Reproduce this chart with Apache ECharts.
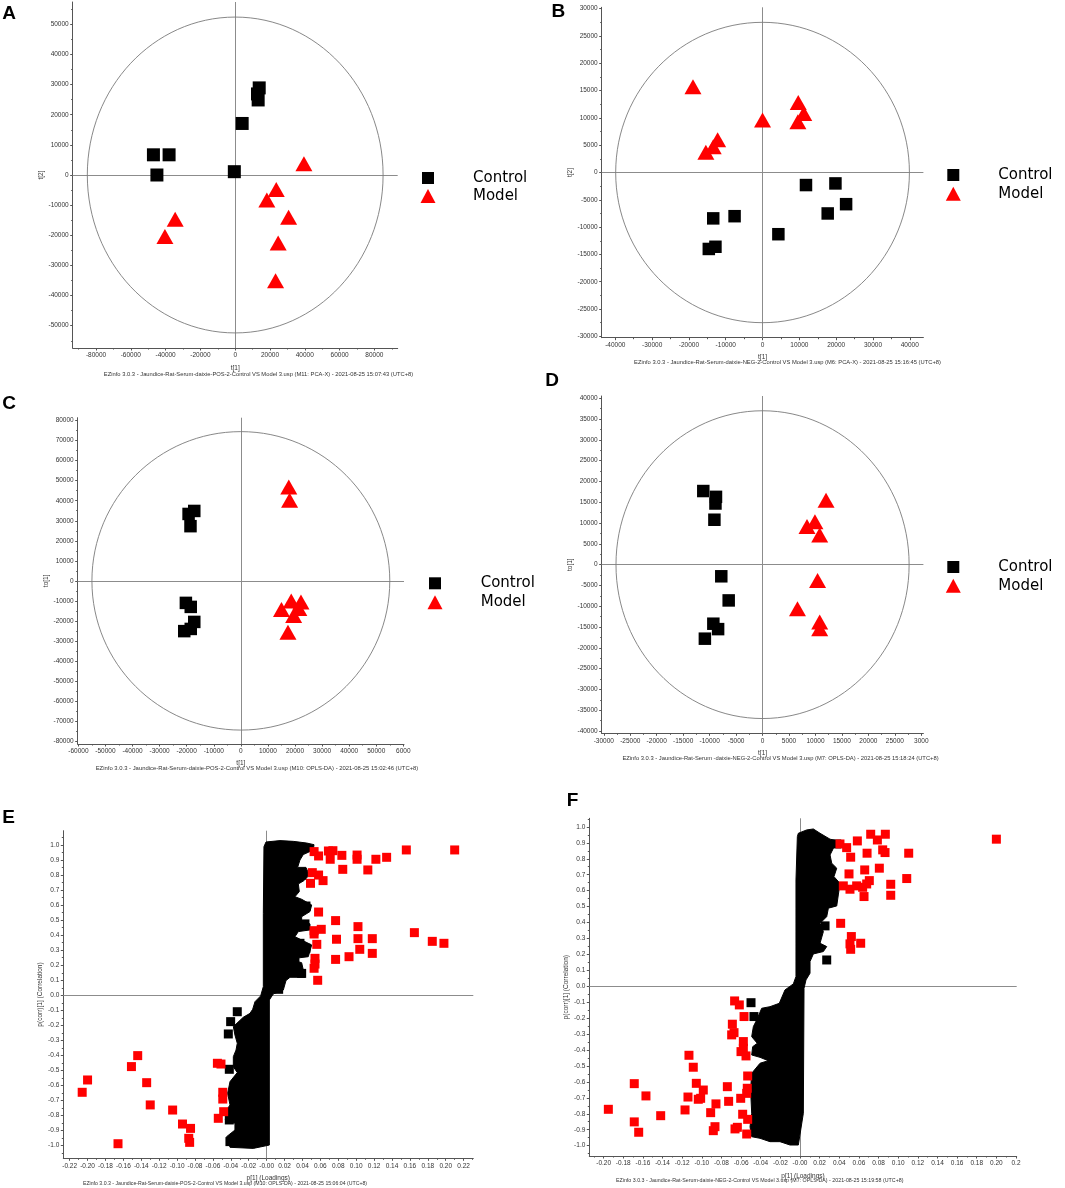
<!DOCTYPE html>
<html>
<head>
<meta charset="utf-8">
<script src="https://cdn.jsdelivr.net/npm/echarts@6/dist/echarts.min.js"></script>
<style>
  html, body { margin: 0; padding: 0; background: #fff; }
  #chart { width: 1065px; height: 1188px; }
</style>
</head>
<body>
<div id="chart"></div>
<script>
// ---- A: PCA-X, POS ----
var aControl = [[-47000, 6700], [-38000, 6700], [-45000, 0], [-500, 1100], [4000, 17100], [13800, 28900], [12800, 26900], [13200, 24900]];
var aModel = [[39500, 3700], [23600, -4800], [18200, -8300], [30700, -14000], [-34500, -14700], [24700, -22600], [-40400, -20400], [23200, -35100]];
var aEllipse = [85000, 52400];
var aXTicks = [-80000, -60000, -40000, -20000, 0, 20000, 40000, 60000, 80000];
var aXLabels = ['-80000', '-60000', '-40000', '-20000', '0', '20000', '40000', '60000', '80000'];
var aYTicks = [-50000, -40000, -30000, -20000, -10000, 0, 10000, 20000, 30000, 40000, 50000];
var aYLabels = ['-50000', '-40000', '-30000', '-20000', '-10000', '0', '10000', '20000', '30000', '40000', '50000'];

// ---- B: PCA-X, NEG ----
var bControl = [[11800, -2300], [19800, -2000], [22700, -5800], [17700, -7500], [4300, -11300], [-7600, -8000], [-13400, -8400], [-12800, -13600], [-14600, -14000]];
var bModel = [[-18900, 15700], [0, 9600], [9700, 12800], [11200, 10800], [9600, 9300], [-12200, 6000], [-13400, 4700], [-15400, 3700]];
var bEllipse = [39900, 27500];
var bXTicks = [-40000, -30000, -20000, -10000, 0, 10000, 20000, 30000, 40000];
var bXLabels = ['-40000', '-30000', '-20000', '-10000', '0', '10000', '20000', '30000', '40000'];
var bYTicks = [-30000, -25000, -20000, -15000, -10000, -5000, 0, 5000, 10000, 15000, 20000, 25000, 30000];
var bYLabels = ['-30000', '-25000', '-20000', '-15000', '-10000', '-5000', '0', '5000', '10000', '15000', '20000', '25000', '30000'];

// ---- C: OPLS-DA scores, POS ----
var cControl = [[-19300, 33400], [-17200, 34900], [-18600, 27300], [-20300, -11000], [-18500, -13000], [-17200, -20500], [-18500, -24000], [-20900, -25100]];
var cModel = [[17700, 46900], [18000, 40300], [18600, -10000], [22200, -10500], [15000, -14300], [21400, -13800], [19500, -17300], [17400, -25600]];
var cEllipse = [55000, 74500];
var cXTicks = [-60000, -50000, -40000, -30000, -20000, -10000, 0, 10000, 20000, 30000, 40000, 50000, 60000];
var cXLabels = ['-60000', '-50000', '-40000', '-30000', '-20000', '-10000', '0', '10000', '20000', '30000', '40000', '50000', '6000'];
var cYTicks = [-80000, -70000, -60000, -50000, -40000, -30000, -20000, -10000, 0, 10000, 20000, 30000, 40000, 50000, 60000, 70000, 80000];
var cYLabels = ['-80000', '-70000', '-60000', '-50000', '-40000', '-30000', '-20000', '-10000', '0', '10000', '20000', '30000', '40000', '50000', '60000', '70000', '80000'];

// ---- D: OPLS-DA scores, NEG ----
var dControl = [[-11200, 17700], [-8800, 16300], [-8900, 14700], [-9100, 10800], [-7800, -2800], [-6400, -8600], [-9300, -14200], [-8400, -15500], [-10900, -17800]];
var dModel = [[12000, 15500], [9900, 10300], [8400, 9200], [10800, 7100], [10400, -3800], [6600, -10600], [10800, -13800], [10800, -15400]];
var dEllipse = [27700, 37000];
var dXTicks = [-30000, -25000, -20000, -15000, -10000, -5000, 0, 5000, 10000, 15000, 20000, 25000, 30000];
var dXLabels = ['-30000', '-25000', '-20000', '-15000', '-10000', '-5000', '0', '5000', '10000', '15000', '20000', '25000', '3000'];
var dYTicks = [-40000, -35000, -30000, -25000, -20000, -15000, -10000, -5000, 0, 5000, 10000, 15000, 20000, 25000, 30000, 35000, 40000];
var dYLabels = ['-40000', '-35000', '-30000', '-25000', '-20000', '-15000', '-10000', '-5000', '0', '5000', '10000', '15000', '20000', '25000', '30000', '35000', '40000'];

// ---- E: S-plot, POS ----
var eRed = [
  [0.053, 0.956], [0.058, 0.927], [0.069, 0.960], [0.074, 0.962], [0.071, 0.905], [0.084, 0.931], [0.101, 0.933], [0.101, 0.905],
  [0.122, 0.905], [0.134, 0.918], [0.156, 0.967], [0.210, 0.967], [0.085, 0.838], [0.113, 0.834], [0.051, 0.816], [0.058, 0.800],
  [0.063, 0.763], [0.049, 0.745], [0.058, 0.554], [0.077, 0.497], [0.102, 0.457], [0.053, 0.430], [0.061, 0.439], [0.053, 0.408],
  [0.078, 0.373], [0.102, 0.377], [0.118, 0.377], [0.165, 0.417], [0.185, 0.359], [0.198, 0.346], [0.056, 0.339], [0.104, 0.306],
  [0.118, 0.279], [0.092, 0.257], [0.077, 0.239], [0.054, 0.246], [0.054, 0.208], [0.053, 0.180], [0.057, 0.100],
  [-0.206, -0.645], [-0.200, -0.563], [-0.166, -0.987], [-0.151, -0.474], [-0.144, -0.401], [-0.134, -0.581], [-0.130, -0.729],
  [-0.105, -0.763], [-0.094, -0.856], [-0.085, -0.885], [-0.087, -0.951], [-0.086, -0.978], [-0.055, -0.452], [-0.051, -0.457],
  [-0.049, -0.645], [-0.049, -0.690], [-0.048, -0.774], [-0.054, -0.818]
];
// outline of the dense mass of black variables
var eBand = [
  [-0.0030, 0.989], [-0.0007, 1.020], [0.0149, 1.029], [0.0298, 1.024], [0.0447, 1.013], [0.0529, 1.002], [0.0521, 0.967],
  [0.0409, 0.936], [0.0372, 0.900], [0.0346, 0.851], [0.0439, 0.851], [0.0476, 0.800], [0.0417, 0.763], [0.0354, 0.741],
  [0.0365, 0.690], [0.0316, 0.656], [0.0391, 0.639], [0.0503, 0.601], [0.0484, 0.557], [0.0391, 0.523], [0.0391, 0.497],
  [0.0484, 0.475], [0.0484, 0.435], [0.0354, 0.424], [0.0316, 0.390], [0.0391, 0.368], [0.0503, 0.335], [0.0465, 0.257],
  [0.0316, 0.246], [0.0279, 0.235], [0.0391, 0.217], [0.0428, 0.120], [0.0261, 0.120], [0.0216, 0.098], [0.0186, 0.035],
  [0.0074, 0.009], [0.0030, -0.031], [0.0030, -0.996], [-0.0149, -1.018], [-0.0409, -1.011], [-0.0447, -0.940],
  [-0.0354, -0.896], [-0.0354, -0.851], [-0.0462, -0.829], [-0.0447, -0.763], [-0.0409, -0.729], [-0.0436, -0.652],
  [-0.0409, -0.574], [-0.0328, -0.514], [-0.0372, -0.475], [-0.0372, -0.408], [-0.0342, -0.364], [-0.0328, -0.319],
  [-0.0354, -0.264], [-0.0372, -0.208], [-0.0261, -0.146], [-0.0186, -0.120], [-0.0156, -0.093], [-0.0130, -0.042],
  [-0.0067, -0.004], [-0.0037, 0.058], [-0.0037, 0.545]
];
var eBlack = [[-0.0328, -0.109], [-0.0402, -0.175], [-0.0428, -0.257], [-0.0417, -0.492], [-0.0417, -0.829], [-0.041, -0.973],
  [0.0391, 0.800], [0.0439, 0.594], [0.0428, 0.475], [0.0372, 0.346], [0.0439, 0.313], [0.0316, 0.224], [0.0391, 0.146], [0.0134, 0.040]];
var eXTicks = [-0.22, -0.20, -0.18, -0.16, -0.14, -0.12, -0.10, -0.08, -0.06, -0.04, -0.02, 0, 0.02, 0.04, 0.06, 0.08, 0.10, 0.12, 0.14, 0.16, 0.18, 0.20, 0.22];
var eXLabels = ['-0.22', '-0.20', '-0.18', '-0.16', '-0.14', '-0.12', '-0.10', '-0.08', '-0.06', '-0.04', '-0.02', '-0.00', '0.02', '0.04', '0.06', '0.08', '0.10', '0.12', '0.14', '0.16', '0.18', '0.20', '0.22'];
var corrTicks = [-1.0, -0.9, -0.8, -0.7, -0.6, -0.5, -0.4, -0.3, -0.2, -0.1, 0, 0.1, 0.2, 0.3, 0.4, 0.5, 0.6, 0.7, 0.8, 0.9, 1.0];
var corrLabels = ['-1.0', '-0.9', '-0.8', '-0.7', '-0.6', '-0.5', '-0.4', '-0.3', '-0.2', '-0.1', '0.0', '0.1', '0.2', '0.3', '0.4', '0.5', '0.6', '0.7', '0.8', '0.9', '1.0'];

// ---- F: S-plot, NEG ----
var fRed = [
  [0.0407, 0.893], [0.0475, 0.870], [0.0516, 0.810], [0.0584, 0.912], [0.0720, 0.954], [0.0788, 0.918], [0.0869, 0.954],
  [0.0683, 0.835], [0.0842, 0.856], [0.0866, 0.839], [0.1107, 0.835], [0.2000, 0.923], [0.0499, 0.705], [0.0659, 0.730],
  [0.0808, 0.741], [0.0441, 0.630], [0.0509, 0.609], [0.0577, 0.630], [0.0638, 0.621], [0.0706, 0.663], [0.0679, 0.642],
  [0.0652, 0.563], [0.0924, 0.640], [0.0924, 0.571], [0.1087, 0.676], [0.0414, 0.395], [0.0523, 0.312], [0.0509, 0.266],
  [0.0516, 0.232], [0.0618, 0.270],
  [-0.1952, -0.772], [-0.1688, -0.611], [-0.1569, -0.688], [-0.1688, -0.851], [-0.1643, -0.916], [-0.1419, -0.812],
  [-0.1131, -0.433], [-0.1087, -0.508], [-0.1056, -0.609], [-0.0985, -0.651], [-0.1141, -0.695], [-0.1036, -0.709],
  [-0.1012, -0.703], [-0.1171, -0.776], [-0.0910, -0.793], [-0.0856, -0.738], [-0.0866, -0.881], [-0.0883, -0.906],
  [-0.0740, -0.630], [-0.0727, -0.722], [-0.0662, -0.895], [-0.0638, -0.885], [-0.0666, -0.092], [-0.0618, -0.117],
  [-0.0570, -0.190], [-0.0689, -0.238], [-0.0672, -0.291], [-0.0696, -0.305], [-0.0577, -0.347], [-0.0577, -0.389],
  [-0.0601, -0.410], [-0.0550, -0.437], [-0.0533, -0.563], [-0.0537, -0.640], [-0.0543, -0.672], [-0.0604, -0.703],
  [-0.0584, -0.803], [-0.0533, -0.835], [-0.0543, -0.927]
];
var fBand = [
  [-0.0017, 0.960], [0.0068, 0.981], [0.0136, 0.987], [0.0204, 0.960], [0.0306, 0.923], [0.0390, 0.912], [0.0340, 0.866],
  [0.0306, 0.824], [0.0323, 0.772], [0.0374, 0.741], [0.0346, 0.688], [0.0407, 0.646], [0.0390, 0.573], [0.0374, 0.504],
  [0.0289, 0.490], [0.0272, 0.437], [0.0204, 0.395], [0.0238, 0.343], [0.0204, 0.270], [0.0272, 0.249], [0.0238, 0.218],
  [0.0136, 0.203], [0.0102, 0.155], [0.0102, 0.082], [0.0061, 0.040], [0.0041, -0.013], [0.0034, -0.797], [-0.0017, -0.996],
  [-0.0102, -0.996], [-0.0204, -0.975], [-0.0306, -0.975], [-0.0407, -0.954], [-0.0492, -0.944], [-0.0509, -0.881],
  [-0.0492, -0.797], [-0.0503, -0.651], [-0.0492, -0.546], [-0.0407, -0.483], [-0.0323, -0.467], [-0.0407, -0.446],
  [-0.0492, -0.431], [-0.0482, -0.379], [-0.0435, -0.358], [-0.0492, -0.316], [-0.0475, -0.253], [-0.0441, -0.211],
  [-0.0390, -0.138], [-0.0306, -0.128], [-0.0211, -0.107], [-0.0153, -0.023], [-0.0068, 0.015], [-0.0041, 0.061],
  [-0.0041, 0.667], [-0.0027, 0.939]
];
var fBlack = [[-0.0499, -0.103], [0.0255, 0.379], [0.0272, 0.165], [0.0374, 0.893], [-0.0469, -0.190]];
var fXTicks = [-0.20, -0.18, -0.16, -0.14, -0.12, -0.10, -0.08, -0.06, -0.04, -0.02, 0, 0.02, 0.04, 0.06, 0.08, 0.10, 0.12, 0.14, 0.16, 0.18, 0.20, 0.22];
var fXLabels = ['-0.20', '-0.18', '-0.16', '-0.14', '-0.12', '-0.10', '-0.08', '-0.06', '-0.04', '-0.02', '-0.00', '0.02', '0.04', '0.06', '0.08', '0.10', '0.12', '0.14', '0.16', '0.18', '0.20', '0.2'];

var footers = [
  'EZinfo 3.0.3 - Jaundice-Rat-Serum-daixie-POS-2-Control VS Model 3.usp (M11: PCA-X) - 2021-08-25 15:07:43 (UTC+8)',
  'EZinfo 3.0.3 - Jaundice-Rat-Serum-daixie-NEG-2-Control VS Model 3.usp (M6: PCA-X) - 2021-08-25 15:16:45 (UTC+8)',
  'EZinfo 3.0.3 - Jaundice-Rat-Serum-daixie-POS-2-Control VS Model 3.usp (M10: OPLS-DA) - 2021-08-25 15:02:46 (UTC+8)',
  'EZinfo 3.0.3 - Jaundice-Rat-Serum -daixie-NEG-2-Control VS Model 3.usp (M7: OPLS-DA) - 2021-08-25 15:18:24 (UTC+8)',
  'EZinfo 3.0.3 - Jaundice-Rat-Serum-daixie-POS-2-Control VS Model 3.usp (M10: OPLS-DA) - 2021-08-25 15:06:04 (UTC+8)',
  'EZinfo 3.0.3 - Jaundice-Rat-Serum-daixie-NEG-2-Control VS Model 3.usp (M7: OPLS-DA) - 2021-08-25 15:19:58 (UTC+8)'
];

var FONT = '"Liberation Sans", Arial, sans-serif';
var AXIS_COLOR = '#555';
var TEXT_COLOR = '#333';

var chartDom = document.getElementById('chart');
var myChart = echarts.init(chartDom);

var grids = [], xAxes = [], yAxes = [], series = [];

// minor ticks halfway between labelled ones, kept inside the axis range
function halfTicks(ticks, range) {
  var out = [];
  var step = ticks[1] - ticks[0];
  for (var i = -1; i < ticks.length; i++) {
    var v = ticks[0] + (i + 0.5) * step;
    if (v > range[0] && v < range[1]) out.push(v);
  }
  return out;
}

function mainAxis(gi, a, pos) {
  return {
    type: 'value', gridIndex: gi, position: pos, min: a.range[0], max: a.range[1],
    name: a.name, nameLocation: 'middle', nameGap: a.gap, nameRotate: pos === 'left' ? 90 : 0,
    nameTextStyle: { fontSize: 6.5, fontFamily: FONT, color: TEXT_COLOR },
    axisLine: { show: true, onZero: false, lineStyle: { color: AXIS_COLOR, width: 1 } },
    axisTick: { show: true, customValues: a.ticks, length: 2.5, lineStyle: { color: AXIS_COLOR } },
    axisLabel: {
      show: true, customValues: a.ticks, margin: 4, fontSize: 6.5, fontFamily: FONT, color: TEXT_COLOR,
      formatter: function (v) {
        for (var i = 0; i < a.ticks.length; i++) {
          if (Math.abs(a.ticks[i] - v) < 1e-9) return a.labels[i];
        }
        return '';
      }
    },
    splitLine: { show: false }
  };
}

function minorAxis(gi, a, pos) {
  return {
    type: 'value', gridIndex: gi, position: pos, min: a.range[0], max: a.range[1],
    axisLine: { show: false, onZero: false },
    axisTick: { show: true, customValues: halfTicks(a.ticks, a.range), length: 1.5, lineStyle: { color: AXIS_COLOR } },
    axisLabel: { show: false },
    splitLine: { show: false }
  };
}

function crossLines() {
  return {
    silent: true, z: 1, symbol: 'none', animation: false,
    label: { show: false },
    lineStyle: { color: '#8c8c8c', width: 1, type: 'solid' },
    emphasis: { disabled: true },
    data: [{ xAxis: 0 }, { yAxis: 0 }]
  };
}

function addPanel(p) {
  var gi = grids.length;
  grids.push({ left: p.box[0], top: p.box[1], width: p.box[2], height: p.box[3], outerBoundsMode: 'none' });
  var xi = xAxes.length, yi = yAxes.length;
  xAxes.push(mainAxis(gi, p.x, 'bottom'), minorAxis(gi, p.x, 'bottom'));
  yAxes.push(mainAxis(gi, p.y, 'left'), minorAxis(gi, p.y, 'left'));

  if (p.ellipse) {
    series.push({
      type: 'custom', xAxisIndex: xi, yAxisIndex: yi, silent: true, z: 2,
      data: [[0, 0, p.ellipse[0], p.ellipse[1]]],
      renderItem: function (params, api) {
        var c = api.coord([api.value(0), api.value(1)]);
        var s = api.size([api.value(2), api.value(3)]);
        return {
          type: 'ellipse',
          shape: { cx: c[0], cy: c[1], rx: s[0], ry: s[1] },
          style: { fill: 'none', stroke: '#7a7a7a', lineWidth: 0.9 }
        };
      },
      markLine: crossLines()
    });
    series.push({
      name: 'Control', type: 'scatter', xAxisIndex: xi, yAxisIndex: yi, z: 3,
      symbol: 'rect', symbolSize: p.sq, itemStyle: { color: '#000', opacity: 1 },
      data: p.control
    });
    series.push({
      name: 'Model', type: 'scatter', xAxisIndex: xi, yAxisIndex: yi, z: 4,
      symbol: 'triangle', symbolSize: [17, 15], itemStyle: { color: '#ff0000', opacity: 1 },
      data: p.model
    });
  } else {
    var band = p.band;
    series.push({
      type: 'custom', xAxisIndex: xi, yAxisIndex: yi, silent: true, z: 2,
      data: band,
      renderItem: function (params, api) {
        if (params.dataIndex !== 0) return;
        var pts = band.map(function (d) { return api.coord(d); });
        return { type: 'polygon', shape: { points: pts }, style: { fill: '#000', stroke: '#000', lineWidth: 1 } };
      },
      markLine: crossLines()
    });
    series.push({
      type: 'scatter', xAxisIndex: xi, yAxisIndex: yi, z: 3,
      symbol: 'rect', symbolSize: 9, itemStyle: { color: '#000', opacity: 1 },
      data: p.black
    });
    series.push({
      type: 'scatter', xAxisIndex: xi, yAxisIndex: yi, z: 4,
      symbol: 'rect', symbolSize: 9, itemStyle: { color: '#ff0000', opacity: 1 },
      data: p.red
    });
  }
}

addPanel({
  box: [72.7, 2, 325, 346], ellipse: aEllipse, control: aControl, model: aModel, sq: 13,
  x: { range: [-93400, 93400], ticks: aXTicks, labels: aXLabels, name: 't[1]', gap: 17 },
  y: { range: [-57400, 57400], ticks: aYTicks, labels: aYLabels, name: 't[2]', gap: 26 }
});
addPanel({
  box: [601.7, 7.3, 321.7, 330.4], ellipse: bEllipse, control: bControl, model: bModel, sq: 12.5,
  x: { range: [-43700, 43700], ticks: bXTicks, labels: bXLabels, name: 't[1]', gap: 16 },
  y: { range: [-30250, 30250], ticks: bYTicks, labels: bYLabels, name: 't[2]', gap: 25 }
});
addPanel({
  box: [77.7, 417.7, 326.3, 326.3], ellipse: cEllipse, control: cControl, model: cModel, sq: 12.5,
  x: { range: [-60250, 60250], ticks: cXTicks, labels: cXLabels, name: 't[1]', gap: 16 },
  y: { range: [-81450, 81450], ticks: cYTicks, labels: cYLabels, name: 'to[1]', gap: 26 }
});
addPanel({
  box: [601.7, 396, 321.7, 337.3], ellipse: dEllipse, control: dControl, model: dModel, sq: 12.5,
  x: { range: [-30400, 30400], ticks: dXTicks, labels: dXLabels, name: 't[1]', gap: 16 },
  y: { range: [-40550, 40550], ticks: dYTicks, labels: dYLabels, name: 'to[1]', gap: 26 }
});
addPanel({
  box: [63.3, 830.7, 410, 327.6], band: eBand, black: eBlack, red: eRed,
  x: { range: [-0.2271, 0.2308], ticks: eXTicks, labels: eXLabels, name: 'p[1] (Loadings)', gap: 16 },
  y: { range: [-1.084, 1.095], ticks: corrTicks, labels: corrLabels, name: 'p(corr)[1] (Correlation)', gap: 14 }
});
addPanel({
  box: [589.3, 818.3, 427.4, 337.7], band: fBand, black: fBlack, red: fRed,
  x: { range: [-0.2146, 0.2207], ticks: fXTicks, labels: fXLabels, name: 'p[1] (Loadings)', gap: 16.5 },
  y: { range: [-1.065, 1.054], ticks: corrTicks, labels: corrLabels, name: 'p(corr)[1] (Correlation)', gap: 15 }
});

// one legend per entry so the triangle can be drawn a little larger than the square
function legendItem(name, icon, cx, cy, w, h, textX) {
  var left = cx - w / 2;
  return {
    left: left, top: cy - 8.5, orient: 'vertical', padding: 0,
    itemWidth: w, itemHeight: h, selectedMode: false,
    textStyle: { fontSize: 15, fontFamily: '"DejaVu Sans", Verdana, sans-serif', color: '#000', padding: [2, 0, 0, textX - left - w - 5] },
    data: [{ name: name, icon: icon }]
  };
}

function legendPair(cx, cy1, cy2, textX) {
  return [
    legendItem('Control', 'rect', cx, cy1, 12, 12, textX),
    legendItem('Model', 'triangle', cx, cy2, 15, 14, textX)
  ];
}

function label(text, x, y) {
  return {
    type: 'text', x: x, y: y, silent: true,
    style: { text: text, fill: '#000', font: 'bold 19px "Liberation Sans", Arial, sans-serif', textAlign: 'center', textVerticalAlign: 'middle', align: 'center', verticalAlign: 'middle' }
  };
}

function footer(text, x, y, size) {
  return {
    type: 'text', x: x, y: y, silent: true,
    style: { text: text, fill: TEXT_COLOR, font: size + 'px "Liberation Sans", Arial, sans-serif', textAlign: 'center', textVerticalAlign: 'middle', align: 'center', verticalAlign: 'middle' }
  };
}

var option = {
  backgroundColor: '#fff',
  animation: false,
  grid: grids,
  xAxis: xAxes,
  yAxis: yAxes,
  legend: [].concat(
    legendPair(428, 179, 197, 473),
    legendPair(953.3, 176, 194.7, 998.3),
    legendPair(435, 584.3, 603.3, 480.7),
    legendPair(953.3, 568, 586.7, 998.3)
  ),
  graphic: [
    label('A', 9, 13.5), label('B', 558.3, 12.2), label('C', 9, 403.7),
    label('D', 552, 381), label('E', 8.5, 817.5), label('F', 572.5, 800.8),
    footer(footers[0], 258.5, 374, 5.8),
    footer(footers[1], 787.5, 362.7, 5.8),
    footer(footers[2], 257, 768.3, 5.9),
    footer(footers[3], 780.5, 758.3, 5.8),
    footer(footers[4], 225, 1183.3, 5.2),
    footer(footers[5], 759.7, 1181, 5.3)
  ],
  series: series
};

option && myChart.setOption(option);

window.onresize = function () {
  myChart.resize();
};
</script>
</body>
</html>
